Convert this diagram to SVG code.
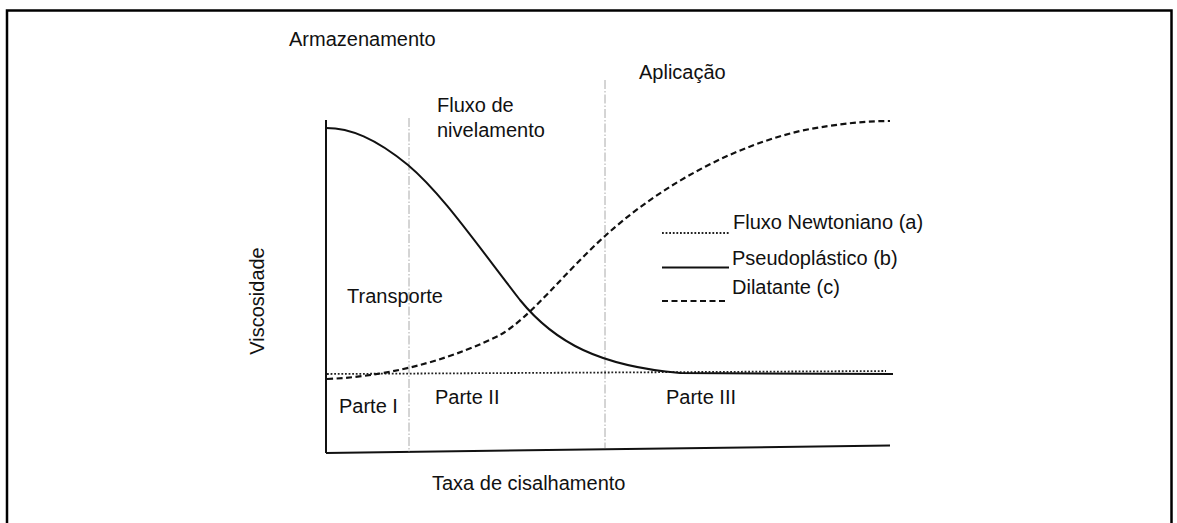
<svg xmlns="http://www.w3.org/2000/svg" width="1177" height="523" viewBox="0 0 1177 523">
<style>
text{font-family:"Liberation Sans",Arial,sans-serif;font-size:20px;fill:#111}
.axis{stroke:#111;stroke-width:2;fill:none}
.guide{stroke:#aaa;stroke-width:1;stroke-dasharray:9,2,1.5,2;fill:none}
.solid{stroke:#111;stroke-width:2;fill:none}
.dash{stroke:#111;stroke-width:2.2;stroke-dasharray:6,3.5;fill:none}
.dot{stroke:#222;stroke-width:1.8;stroke-dasharray:1.8,1.8;fill:none}
</style>
<rect width="1177" height="523" fill="#fff"/>
<rect x="7" y="10.5" width="1164.5" height="530" fill="none" stroke="#000" stroke-width="2.5"/>
<g id="connectors">
<path id="axis-y" class="axis" d="M326,120 L326,453"/>
<path id="axis-x" class="axis" d="M326,453 L890,445.5"/>
<path id="guide-1" class="guide" d="M409,118 L409,452"/>
<path id="guide-2" class="guide" d="M605,80 L605,448"/>
<path id="newtonian" class="dot" d="M327,374 L886,371"/>
<path id="pseudoplastic" class="solid" d="M326,128 C350,128 375,138 408,165 C440,192 470,235 520,300 C555,343 600,366 680,373 L893,374"/>
<path id="dilatant" class="dash" d="M327,379 C400,376 460,355 500,335 C530,318 565,272 605,236 C650,195 720,150 800,131 C840,123 870,121 890,121"/>
</g>
<g id="legend">
<path class="dot" d="M662,233 L729,233"/>
<path class="solid" d="M662,267.5 L729,267.5"/>
<path class="dash" d="M662,301 L726,301"/>
<text x="733" y="229">Fluxo Newtoniano (a)</text>
<text x="732" y="265">Pseudoplástico (b)</text>
<text x="732" y="294">Dilatante (c)</text>
</g>
<g id="label-armazenamento"><text x="289" y="46">Armazenamento</text></g>
<g id="label-fluxo"><text x="437" y="112">Fluxo de</text><text x="437" y="137">nivelamento</text></g>
<g id="label-aplicacao"><text x="639" y="79">Aplicação</text></g>
<g id="label-transporte"><text x="347" y="303">Transporte</text></g>
<g id="label-viscosidade"><text transform="translate(264,301) rotate(-90)" text-anchor="middle">Viscosidade</text></g>
<g id="label-parte1"><text x="339" y="413">Parte I</text></g>
<g id="label-parte2"><text x="435" y="404">Parte II</text></g>
<g id="label-parte3"><text x="666" y="404">Parte III</text></g>
<g id="label-taxa"><text x="432" y="490">Taxa de cisalhamento</text></g>
</svg>
